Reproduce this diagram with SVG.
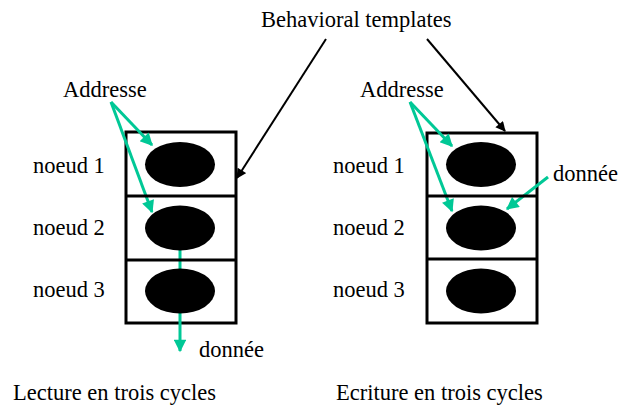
<svg xmlns="http://www.w3.org/2000/svg" width="618" height="410" viewBox="0 0 618 410" font-family="'Liberation Serif', 'DejaVu Serif', serif" font-size="22.5">
  <style>
    text { font-family: "Liberation Serif", "DejaVu Serif", serif; font-size: 22.5px; fill: #000; }
    .cell { fill: #fff; stroke: #000; stroke-width: 3; }
    .dot { fill: #000; }
    .g { stroke: #00c896; stroke-width: 3; fill: none; }
    .k { stroke: #000; stroke-width: 2; fill: none; }
  </style>
  <defs>
    <marker id="ag" viewBox="0 0 10 10" refX="9" refY="5" markerWidth="5" markerHeight="4.2" markerUnits="strokeWidth" orient="auto">
      <path d="M0,0 L10,5 L0,10 z" fill="#00c896"/>
    </marker>
    <marker id="ak" viewBox="0 0 10 10" refX="9" refY="5" markerWidth="6.5" markerHeight="5" markerUnits="strokeWidth" orient="auto">
      <path d="M0,0 L10,5 L0,10 z" fill="#000"/>
    </marker>
  </defs>

  <text x="261" y="27">Behavioral templates</text>

  <!-- Lecture: frame and labels -->
  <g id="lecture">
    <rect class="cell" x="126" y="132" width="110" height="191"/>
    <text x="33" y="173">noeud 1</text>
    <text x="33" y="235">noeud 2</text>
    <text x="33" y="297">noeud 3</text>
    <text x="63" y="97">Addresse</text>
    <text x="199" y="357">donnée</text>
    <text x="13" y="400">Lecture en trois cycles</text>
  </g>

  <!-- Ecriture: frame and labels -->
  <g id="ecriture">
    <rect class="cell" x="427" y="133" width="110" height="190"/>
    <text x="333" y="173">noeud 1</text>
    <text x="333" y="235">noeud 2</text>
    <text x="333" y="297">noeud 3</text>
    <text x="360" y="97">Addresse</text>
    <text x="553" y="181">donnée</text>
    <text x="336" y="400">Ecriture en trois cycles</text>
  </g>

  <g id="connectors">
    <line class="k" x1="326" y1="39" x2="237" y2="178" marker-end="url(#ak)"/>
    <line class="k" x1="427" y1="39" x2="505" y2="131" marker-end="url(#ak)"/>

    <line class="g" x1="111" y1="102" x2="152" y2="145" marker-end="url(#ag)"/>
    <line class="g" x1="111" y1="102" x2="152" y2="212" marker-end="url(#ag)"/>
    <line class="g" x1="180" y1="248" x2="180" y2="351" marker-end="url(#ag)"/>

    <line class="g" x1="410" y1="102" x2="452" y2="146" marker-end="url(#ag)"/>
    <line class="g" x1="410" y1="102" x2="452" y2="211" marker-end="url(#ag)"/>
    <line class="g" x1="548" y1="177" x2="507" y2="209" marker-end="url(#ag)"/>
  </g>

  <!-- cell dividers -->
  <g id="dividers" stroke="#000" stroke-width="3">
    <line x1="126" y1="196" x2="236" y2="196"/>
    <line x1="126" y1="260" x2="236" y2="260"/>
    <line x1="427" y1="196" x2="537" y2="196"/>
    <line x1="427" y1="259" x2="537" y2="259"/>
  </g>

  <g id="lecture-n1"><ellipse class="dot" cx="180" cy="164.5" rx="35" ry="22.5"/></g>
  <g id="lecture-n2"><ellipse class="dot" cx="180" cy="228" rx="35" ry="22.5"/></g>
  <g id="lecture-n3"><ellipse class="dot" cx="180" cy="291" rx="35" ry="22.5"/></g>
  <g id="ecriture-n1"><ellipse class="dot" cx="481" cy="164.5" rx="35" ry="22.5"/></g>
  <g id="ecriture-n2"><ellipse class="dot" cx="481" cy="228" rx="35" ry="22.5"/></g>
  <g id="ecriture-n3"><ellipse class="dot" cx="481" cy="291" rx="35" ry="22.5"/></g>
</svg>
